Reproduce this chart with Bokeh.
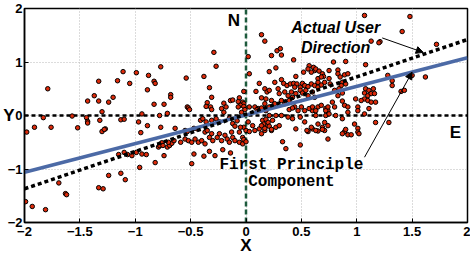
from bokeh.plotting import figure
from bokeh.models import Label, Arrow, NormalHead, FixedTicker, CustomJSTickFormatter
from bokeh.embed import file_html
from bokeh.resources import INLINE

# ---- data ----
pts_x = [
 -1.79,-1.11,-0.99,-0.77,-1.16,-1.05,-0.88,-0.83,-0.82,-0.89,-1.33,-1.37,-1.43,-1.33,-1.24,-1.20,-1.30,-0.83,-1.83,-1.57,
 -1.91,-1.76,-1.52,-1.44,-1.43,-1.43,-1.32,-1.27,-1.13,-1.10,-0.97,-0.94,-0.89,-0.77,
 -1.98,-1.30,-1.28,-0.95,-1.99,-1.93,-1.81,-1.69,-1.63,-1.62,-1.33,-1.29,-1.24,-1.13,-1.09,-0.96,-1.15,-1.10,-1.07,-1.03,
 -0.99,-0.94,-0.90,-0.82,-0.79,-0.77,
 -0.68,-0.68,-0.74,-0.78,-0.71,-0.76,-0.78,-0.75,-0.71,-0.69,-0.67,-0.74,
 -0.29,-0.27,-0.54,-0.38,0.02,0.03,-0.33,-0.31,-0.02,-0.35,-0.32,-0.36,-0.31,-0.20,-0.14,-0.12,-0.06,-0.07,-0.03,-0.02,
 -0.05,-0.02,-0.53,-0.52,
 0.14,0.17,0.23,0.28,0.31,0.32,0.43,0.21,0.57,0.62,0.59,0.52,0.56,0.45,0.65,
 0.61,0.63,0.66,0.69,0.70,0.27,0.75,0.12,0.26,0.32,0.34,0.37,0.40,0.43,0.46,0.44,0.49,0.51,0.53,0.56,0.59,0.62,0.65,0.65,
 0.68,0.75,0.76,0.09,0.17,0.19,0.21,0.29,0.30,0.35,0.38,0.41,0.42,0.45,0.49,0.51,0.54,0.56,0.60,0.62,0.14,0.18,0.17,0.23,
 0.26,0.32,0.35,0.39,0.08,0.11,0.65,0.68,0.72,0.44,
 1.21,0.79,0.90,1.08,0.83,0.83,0.89,0.92,0.85,0.87,0.86,0.90,1.28,1.32,1.32,0.80,0.84,0.87,0.83,1.08,1.11,1.15,1.07,1.10,
 1.13,1.16,1.07,1.10,1.13,1.17,1.04,1.40,1.43,0.78,0.80,0.87,0.89,0.92,0.99,1.01,
 1.07,1.48,1.41,1.13,1.20,1.72,1.62,1.50,0.68,0.71,1.17,1.29,0.71,0.81,0.87,0.98,0.60,0.63,0.74,0.92,1.01,1.07,1.11,
 0.60,0.65,0.69,0.71,0.74,0.89,0.90,0.87,0.92,0.95,1.01,1.01,1.02,
 -0.64,-0.37,-0.35,-0.31,-0.33,-0.30,-0.26,-0.24,-0.22,-0.19,-0.17,-0.13,-0.12,-0.15,-0.10,-0.06,-0.03,-0.02,-0.05,0.00,
 0.03,0.08,0.12,0.14,0.17,0.19,0.23,0.27,0.33,0.36,0.45,0.49,0.56,-0.46,-0.47,-0.38,-0.28,-0.21,-0.14,-0.33,-0.49,-0.70,
 -0.65,-0.59,-0.55,-0.52,-0.49,-0.43,-0.40,-0.37,
 -0.51,-0.22,-0.18,-0.20,-0.07,-0.04,-0.01,0.03,-0.41,-0.39,-0.36,-0.31,-0.27,-0.24,-0.55,-0.53,-0.47,-0.44,-0.06,-0.03,
 -0.02,0.00,
 0.10,0.14,0.18,0.21,0.39,0.42,0.47,0.50,0.53,0.57,0.60,0.63,0.72,0.74,0.21,0.27,0.32,0.38,0.42,0.49,0.72,0.75,0.15,0.18,
 0.16,0.20,0.14,0.17,0.21,0.24,0.23,0.06,0.30,0.53,0.55,0.59,0.65,0.69,0.74,0.63,
 -0.12,-0.08,-0.15,0.02,-0.10,
]
pts_y = [
 0.50,0.82,0.80,0.91,0.65,0.60,0.75,0.64,0.60,0.48,0.64,0.37,0.27,0.27,0.25,0.34,0.07,0.21,-0.04,-0.01,
 -0.22,-0.22,-0.23,-0.04,-0.11,-0.14,-0.09,-0.25,-0.08,-0.07,-0.12,0.03,-0.19,-0.22,
 -0.31,-0.30,-0.26,-0.32,-1.61,-1.70,-1.76,-1.26,-1.46,-1.48,-1.35,-1.37,-1.12,-1.08,-1.20,-0.97,-0.73,-0.69,-0.73,-0.75,
 -0.69,-0.72,-0.73,-0.88,-0.59,-0.55,
 0.39,0.34,0.21,0.00,0.04,-0.51,-0.56,-0.56,-0.59,-0.56,-0.52,-0.75,
 1.18,0.92,0.70,0.73,1.10,0.78,0.52,0.34,0.45,0.24,0.16,0.17,0.11,0.23,0.28,0.29,0.33,0.26,0.25,0.22,
 0.19,0.17,0.16,0.14,
 1.51,1.39,1.12,1.21,1.25,1.13,1.04,0.82,0.93,0.84,0.81,0.81,0.87,0.73,0.69,
 0.90,0.87,0.83,0.78,0.73,0.89,0.84,0.60,0.62,0.67,0.60,0.56,0.59,0.60,0.59,0.53,0.53,0.60,0.56,0.54,0.59,0.56,0.62,0.53,
 0.57,0.69,0.59,0.45,0.50,0.44,0.47,0.50,0.41,0.44,0.37,0.44,0.34,0.41,0.47,0.42,0.47,0.37,0.44,0.34,0.33,0.31,0.22,0.28,
 0.22,0.28,0.22,0.28,0.16,0.13,0.16,0.19,0.13,0.16,
 1.38,1.00,1.01,0.95,0.85,0.78,0.76,0.78,0.72,0.62,0.56,0.59,0.75,0.65,0.56,0.47,0.50,0.42,0.37,0.50,0.47,0.50,0.42,0.37,
 0.41,0.41,0.31,0.28,0.25,0.25,0.28,0.45,0.47,0.25,0.16,0.27,0.19,0.16,0.31,0.16,
 1.87,1.85,1.57,1.39,1.36,1.33,0.72,0.75,0.72,0.62,-0.13,-0.13,-0.13,0.00,-0.06,-0.16,0.09,0.00,0.09,0.06,0.09,0.03,0.13,
 -0.25,-0.29,-0.22,-0.28,-0.44,-0.30,-0.26,-0.34,-0.36,-0.36,-0.24,-0.31,-0.34,
 -0.24,-0.31,-0.28,-0.34,-0.41,-0.47,-0.41,-0.34,-0.47,-0.37,-0.44,-0.31,-0.41,-0.50,-0.47,-0.31,-0.41,-0.22,-0.22,-0.28,
 -0.30,-0.28,-0.25,-0.34,-0.28,-0.19,-0.28,-0.22,-0.49,-0.62,-0.25,-0.55,-0.30,-0.44,-0.72,-0.76,-0.75,-0.64,-0.70,-0.67,-0.90,-0.50,
 -0.47,-0.50,-0.44,-0.47,-0.50,-0.50,-0.47,-0.53,
 0.11,0.13,0.16,0.06,0.16,0.06,0.11,0.16,-0.09,-0.06,-0.12,-0.09,-0.06,-0.12,-0.28,-0.30,-0.24,-0.25,-0.50,-0.53,
 -0.45,-0.49,
 0.11,0.14,0.09,0.16,0.11,0.14,0.09,0.16,0.09,0.13,0.16,0.09,0.09,0.16,0.00,0.00,0.00,-0.03,-0.06,-0.03,0.00,0.03,-0.09,-0.07,
 -0.16,-0.13,-0.19,-0.24,-0.20,-0.09,-0.26,-0.19,-0.19,-0.12,-0.28,-0.22,-0.16,-0.26,-0.19,-0.28,
 -0.15,-0.10,-0.05,-0.12,-0.20,
]

pc_x = [-2.0, 2.0]          # first principal component
pc_y = [-1.06, 1.08]
user_x = [-2.0, 2.0]        # actual user direction
user_y = [-1.37, 1.42]

x_ticks = [-2, -1.5, -1, -0.5, 0, 0.5, 1, 1.5, 2]
y_ticks = [-2, -1, 0, 1, 2]

n = min(len(pts_x), len(pts_y))
pts_x = pts_x[:n]
pts_y = pts_y[:n]

FONT = "Liberation Sans"

p = figure(width=470, height=259, x_range=(-2, 2), y_range=(-2, 2),
           output_backend="svg", toolbar_location=None,
           min_border_left=22, min_border_right=3, min_border_top=8, min_border_bottom=37)
p.background_fill_color = "white"
p.border_fill_color = "white"
p.outline_line_color = "black"
p.outline_line_width = 1.5

for ax in (p.xaxis[0], p.yaxis[0]):
    ax.axis_line_width = 1.5
    ax.axis_line_color = "black"
    ax.major_tick_in = 4
    ax.major_tick_out = 0
    ax.minor_tick_line_color = None
    ax.major_label_text_font = FONT
    ax.major_label_text_font_style = "bold"
    ax.major_label_text_font_size = "13px"
    ax.major_label_text_color = "black"
    ax.axis_label_text_font = FONT
    ax.axis_label_text_font_style = "bold"
    ax.axis_label_text_font_size = "17px"
    ax.axis_label_text_color = "black"
    ax.formatter = CustomJSTickFormatter(code="return tick < 0 ? '\\u2212' + Math.abs(tick) : '' + tick;")
p.xaxis[0].ticker = FixedTicker(ticks=x_ticks)
p.yaxis[0].ticker = FixedTicker(ticks=y_ticks)
p.xaxis[0].major_label_standoff = 4
p.yaxis[0].major_label_standoff = 2
p.xaxis[0].axis_label = "X"
p.xaxis[0].axis_label_standoff = -3
p.yaxis[0].axis_label = "Y"
p.yaxis[0].axis_label_orientation = "horizontal"
p.yaxis[0].axis_label_standoff = -10

p.grid.grid_line_color = "#b8b8b8"
p.grid.grid_line_dash = "1 2"
p.grid.grid_line_width = 1

# reference lines
p.line([-2, 2], [0, 0], line_color="black", line_width=2.5, line_dash="4 3")
p.line([0, 0], [-2, 2], line_color="#1d5a3c", line_width=2.5, line_dash="5 3")

# points
p.scatter(pts_x, pts_y, size=4.5, fill_color="#dd2a0a", line_color="black", line_width=1)

# direction lines
p.line(pc_x, pc_y, line_color="#4c6aa6", line_width=3.5)
p.line(user_x, user_y, line_color="black", line_width=3.5, line_dash="4 3")

# labels
def lab(x, y, t, size, style="bold", font=FONT, align="center", xo=0, yo=0):
    p.add_layout(Label(x=x, y=y, text=t, text_font=font, text_font_style=style,
                       text_font_size=size, text_align=align, text_baseline="middle",
                       x_offset=xo, y_offset=yo, text_color="black"))

lab(-0.11, 1.78, "N", "17px")
lab(1.89, -0.32, "E", "17px")
lab(0.81, 1.64, "Actual User", "16px", style="bold italic")
lab(0.81, 1.27, "Direction", "16px", style="bold italic")
lab(0.41, -0.93, "First Principle", "16px", font="Liberation Mono")
lab(0.41, -1.25, "Component", "16px", font="Liberation Mono")

p.add_layout(Arrow(end=NormalHead(size=7, fill_color="black", line_color="black"),
                   x_start=1.23, y_start=1.45, x_end=1.60, y_end=1.18,
                   line_color="black", line_width=1))
p.add_layout(Arrow(end=NormalHead(size=7, fill_color="black", line_color="black"),
                   x_start=1.07, y_start=-0.78, x_end=1.50, y_end=0.81,
                   line_color="black", line_width=1))

open("out.html", "w").write(file_html(p, INLINE))
